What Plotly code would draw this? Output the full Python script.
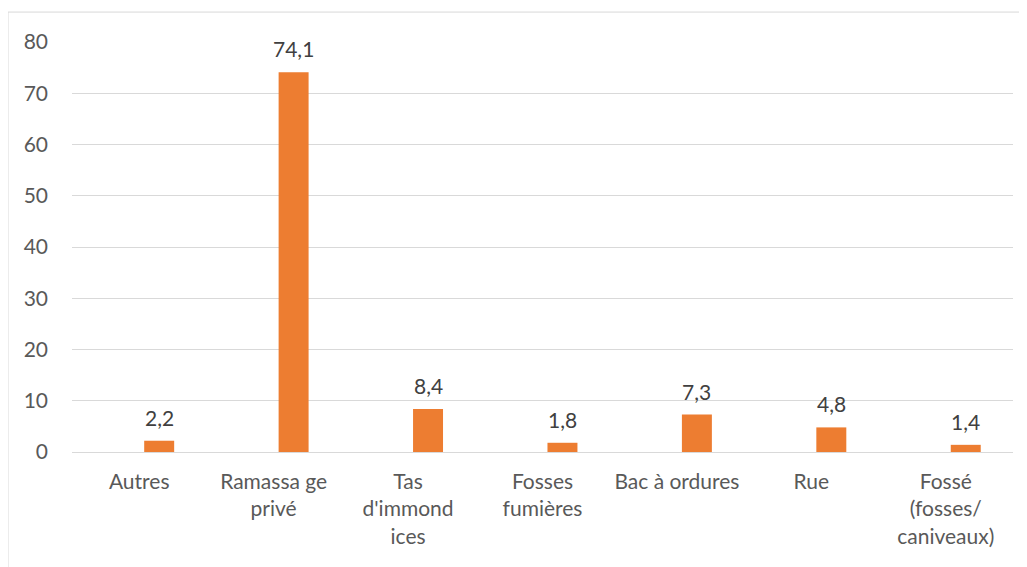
import plotly.graph_objects as go

categories = ["Autres", "Ramassa ge<br>privé", "Tas<br>d'immond<br>ices", "Fosses<br>fumières",
              "Bac à ordures", "Rue", "Fossé<br>(fosses/<br>caniveaux)"]
values = [2.2, 74.1, 8.4, 1.8, 7.3, 4.8, 1.4]
y_ticks = [0, 10, 20, 30, 40, 50, 60, 70, 80]

FONT = "Lato"
FS = 21

fig = go.Figure()
fig.add_trace(go.Bar(
    x=categories, y=values,
    marker=dict(color="#ED7D31", line=dict(width=0)),
    width=0.223, offset=0.037,
    cliponaxis=False,
))

annotations = [
    dict(x=c, y=v, xref="x", yref="y", text=f"{v:.1f}".replace(".", ","),
         showarrow=False, xanchor="center", yanchor="bottom", xshift=20, yshift=9,
         font=dict(family=FONT, size=FS, color="#404040"))
    for c, v in zip(categories, values)
]

fig.update_layout(
    width=1019, height=559,
    margin=dict(l=64, r=14, t=34, b=115),
    plot_bgcolor="white", paper_bgcolor="white",
    showlegend=False,
    font=dict(family=FONT, size=FS, color="#595959"),
    annotations=annotations,
    xaxis=dict(showgrid=False, showline=False, ticks="", zeroline=False,
               tickfont=dict(family=FONT, size=FS, color="#595959"),
               tickangle=0, ticklabelstandoff=15, automargin=False),
    yaxis=dict(range=[0, 80], tickvals=y_ticks, showgrid=True, gridcolor="#D9D9D9",
               gridwidth=1, zeroline=True, zerolinecolor="#D9D9D9", zerolinewidth=1,
               showline=False, ticks="",
               tickfont=dict(family=FONT, size=FS, color="#595959"),
               ticklabelstandoff=23, automargin=False),
    shapes=[dict(type="rect", xref="paper", yref="paper",
                 x0=-0.068, x1=1.03, y0=-0.35, y1=1.073,
                 line=dict(color="#D9D9D9", width=1), fillcolor="rgba(0,0,0,0)", layer="below")],
)

fig.write_html("out.html")
